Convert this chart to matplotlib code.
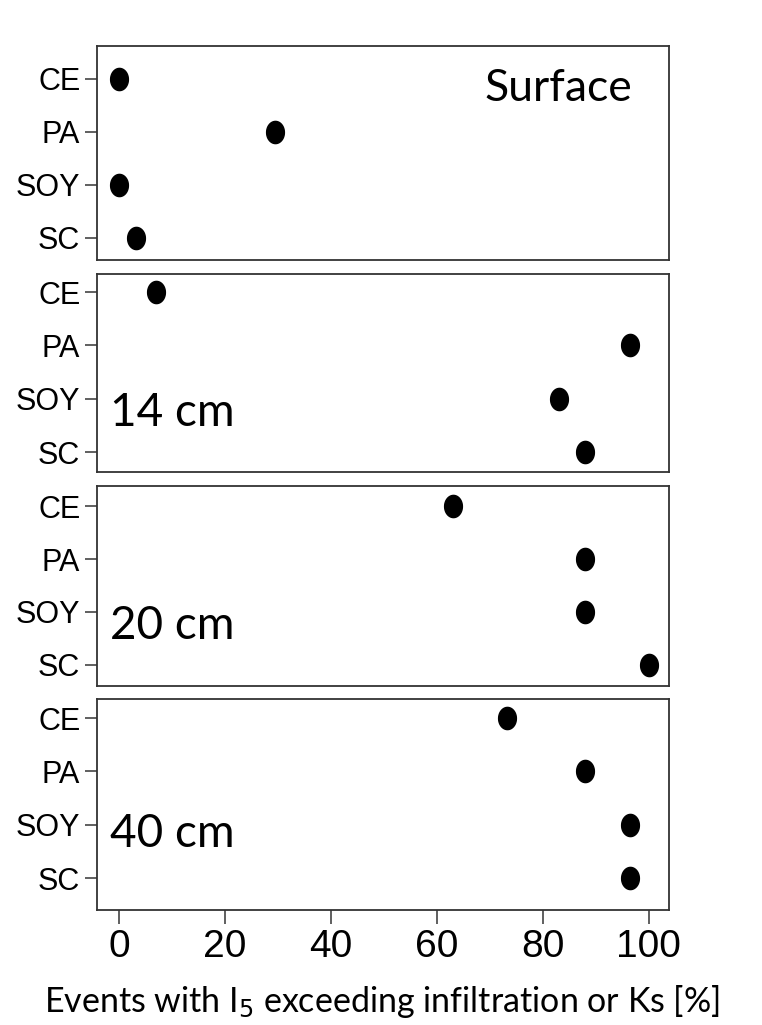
import numpy as np
import matplotlib.pyplot as plt
from matplotlib.path import Path

crops = ["CE", "PA", "SOY", "SC"]
depths = ["Surface", "14 cm", "20 cm", "40 cm"]
surface = [0, 29.4, 0, 3.2]
cm14 = [7.0, 96.4, 83.1, 88.0]
cm20 = [63.1, 88.0, 88.0, 100.0]
cm40 = [73.3, 88.0, 96.4, 96.4]
xticks = [0, 20, 40, 60, 80, 100]

W, H = 762, 1025
fig = plt.figure(figsize=(W / 100, H / 100), dpi=100)

# panel boxes in pixels: top, bottom, and y-limits
boxes = [(46, 260, 0.585, 4.62), (274, 472, 0.625, 4.34),
         (486, 686, 0.60, 4.38), (699, 910, 0.40, 4.36)]
series = [surface, cm14, cm20, cm40]
left, right = 97, 669

# slightly tall ellipse marker
t = np.linspace(0, 2 * np.pi, 60)
oval = Path(np.column_stack([0.8 * np.cos(t), np.sin(t)]), closed=True)

for i, (top, bot, y0, y1) in enumerate(boxes):
    ax = fig.add_axes([left / W, 1 - bot / H, (right - left) / W, (bot - top) / H])
    ypos = np.arange(len(crops), 0, -1)
    ax.plot(series[i], ypos, linestyle="none", marker=oval, ms=16,
            color="black", mec="black")
    ax.set_xlim(-4.15, 103.8)
    ax.set_ylim(y0, y1)
    ax.set_yticks(ypos)
    ax.set_yticklabels(crops, fontsize=22, family="Liberation Sans")
    for s in ax.spines.values():
        s.set_linewidth(1.3)
        s.set_color("#333333")
    ax.tick_params(axis="y", length=9, width=1.2, color="#444444", pad=3)
    ax.set_xticks(xticks)
    if i < 3:
        ax.tick_params(axis="x", bottom=False, labelbottom=False)
    else:
        ax.set_xticklabels([str(v) for v in xticks], fontsize=28, family="Liberation Sans")
        ax.tick_params(axis="x", length=10, width=1.2, color="#444444", pad=4)
    if i == 0:
        ax.text(0.935, 0.80, depths[i], transform=ax.transAxes, ha="right",
                va="center", fontsize=32, family="Lato")
    else:
        ax.text(0.022, 0.30 if i < 3 else 0.36, depths[i], transform=ax.transAxes,
                ha="left", va="center", fontsize=33, family="Lato")

fig.text(44 / W, 1 - 1001 / H, "Events with I$_5$ exceeding infiltration or Ks [%]",
         ha="left", va="center", fontsize=24.5, family="Lato")

fig.savefig("out.png", dpi=100)
